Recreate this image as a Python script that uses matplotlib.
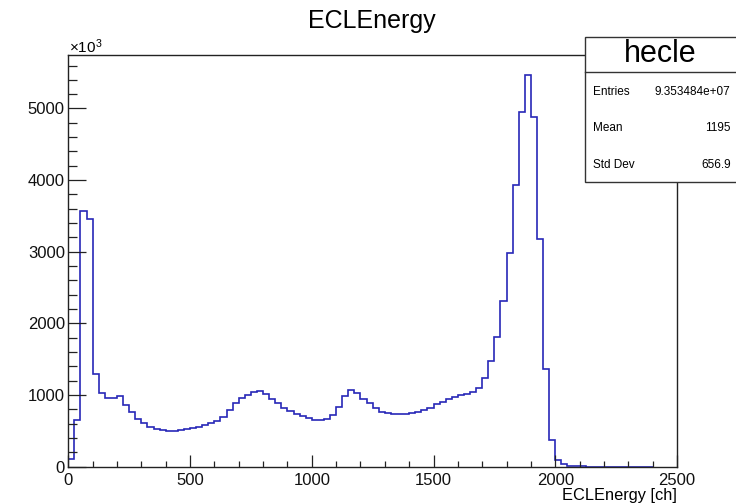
import numpy as np
import matplotlib
matplotlib.use("Agg")
import matplotlib.pyplot as plt
from matplotlib.patches import Rectangle
from matplotlib.ticker import MultipleLocator

plt.rcParams['font.family'] = ['Liberation Sans', 'DejaVu Sans']
plt.rcParams['mathtext.fontset'] = 'custom'
plt.rcParams['mathtext.rm'] = 'Liberation Sans'
plt.rcParams['mathtext.it'] = 'Liberation Sans'

# ECL energy spectrum, 25-channel bins from 0 to 2400 (counts in units of 10^3)
bin_edges = list(range(0, 2425, 25))
counts_k = [
    103, 651, 3566, 3455, 1288, 1023, 958, 965, 990, 860,
    767, 661, 605, 549, 526, 512, 502, 502, 512, 526,
    540, 558, 581, 605, 642, 698, 791, 893, 954, 1005,
    1042, 1051, 1010, 944, 884, 823, 772, 735, 703, 675,
    651, 647, 665, 721, 837, 986, 1065, 1024, 948, 884,
    823, 767, 744, 735, 735, 740, 753, 767, 795, 823,
    870, 907, 940, 976, 996, 1014, 1037, 1102, 1233, 1470,
    1813, 2315, 2976, 3938, 4951, 5473, 4881, 3185, 1370, 372,
    93, 33, 10, 5, 3, 2, 2, 1, 1, 1,
    1, 1, 1, 1, 1, 1,
]

hist_name = "hecle"
title = "ECLEnergy"
xlabel = "ECLEnergy [ch]"
stat_names = ["Entries", "Mean", "Std Dev"]
stat_values = ["9.353484e+07", "1195", "656.9"]

W, H = 736, 504
fig = plt.figure(figsize=(W / 100, H / 100), dpi=100)
ax = fig.add_axes([68.3 / W, 1 - 466.7 / H, (677 - 68.3) / W, (466.7 - 55) / H])

ax.stairs(counts_k, bin_edges, color='#2828b8', linewidth=1.2)

ax.set_xlim(0, 2500)
ax.set_ylim(0, 1.05 * max(counts_k))

ax.xaxis.set_major_locator(MultipleLocator(500))
ax.xaxis.set_minor_locator(MultipleLocator(100))
ax.yaxis.set_major_locator(MultipleLocator(1000))
ax.yaxis.set_minor_locator(MultipleLocator(200))

ax.tick_params(axis='both', which='both', direction='in', color='#222222',
               labelsize=12, labelcolor='#111111', width=0.9)
ax.tick_params(axis='x', which='major', length=8.6, pad=4.5)
ax.tick_params(axis='x', which='minor', length=4.3)
ax.tick_params(axis='y', which='major', length=13, pad=2.5)
ax.tick_params(axis='y', which='minor', length=6.5)
ax.tick_params(top=False, right=False)

for sp in ax.spines.values():
    sp.set_linewidth(1.0)
    sp.set_color('#222222')

ax.set_xlabel(xlabel, fontsize=11.8, loc='right', labelpad=0)
fig.text(69 / W, 1 - 53 / H, r'$\times10^{3}$', fontsize=11, ha='left', va='baseline')

fig.text(371.5 / W, 1 - 27.7 / H, title, fontsize=18, ha='center', va='baseline')

# statistics box
bx0, bx1 = 585 / W, 1.02
by_top, by_head, by_bot = 1 - 36.7 / H, 1 - 72.3 / H, 1 - 181.7 / H
fig.patches.append(Rectangle((bx0, by_bot), bx1 - bx0, by_top - by_bot,
                             transform=fig.transFigure, facecolor='white',
                             edgecolor='#333333', linewidth=1.0, zorder=5))
fig.lines.append(plt.Line2D([bx0, bx1], [by_head, by_head], transform=fig.transFigure,
                            color='#333333', linewidth=1.0, zorder=6))
fig.text((585 + 736) / 2 / W, (by_top + by_head) / 2, hist_name, fontsize=22,
         ha='center', va='center', zorder=7)
row_y = [91.7, 128, 165]
for name, val, yy in zip(stat_names, stat_values, row_y):
    fig.text(593 / W, 1 - yy / H, name, fontsize=8.5, ha='left', va='center', zorder=7)
    fig.text(730.7 / W, 1 - yy / H, val, fontsize=8.5, ha='right', va='center', zorder=7)

fig.savefig("out.png", dpi=100)
